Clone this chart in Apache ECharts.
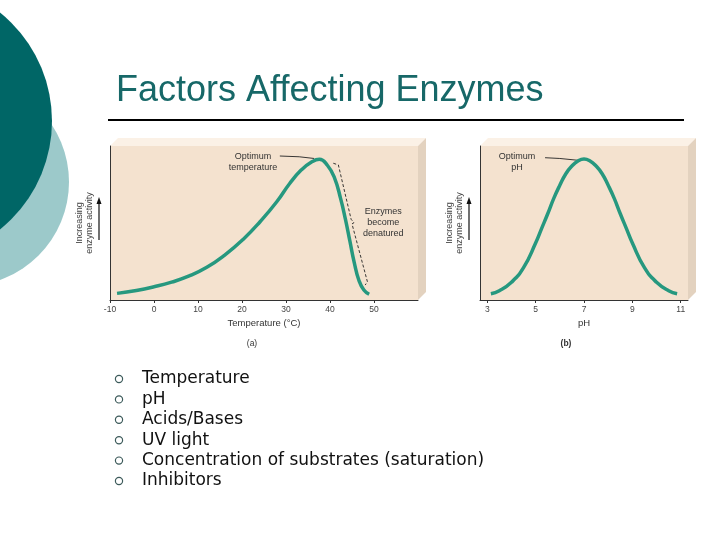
<!DOCTYPE html>
<html lang="en">
<head>
<meta charset="UTF-8">
<title>Factors Affecting Enzymes</title>
<style>
  html, body { margin: 0; padding: 0; background: #fff; }
  #main { width: 720px; height: 540px; }
</style>
</head>
<body>
<div id="main"></div>
<script src="https://cdn.jsdelivr.net/npm/echarts@6/dist/echarts.min.js"></script>
<script>
// (a) temperature, [°C, activity]
var tempCurve = [
  [-8.4, 4.3], [-4, 6.2], [0, 8.6], [4, 11.6], [8, 15.6], [12, 21.2],
  [16, 29], [20.3, 39.5], [24.1, 50.8], [27.9, 63.8], [30.8, 75.5],
  [33.5, 84.5], [35.8, 89.6], [37.6, 91.4], [39.4, 87.5], [41, 79.5],
  [42.4, 66], [43.5, 52.5], [44.5, 38.5], [45.5, 24.5], [46.6, 12.5],
  [47.7, 6.5], [48.9, 3.7]
];
var tempTicks = [-10, 0, 10, 20, 30, 40, 50];

// (b) pH, [pH, activity]
var phCurve = [
  [3.15, 4], [3.5, 6], [4, 11.5], [4.5, 21], [5, 37], [5.25, 46.5], [5.5, 56],
  [5.75, 66], [6, 74.5], [6.25, 82], [6.5, 87], [6.75, 90.3], [7, 91.6],
  [7.25, 90.3], [7.5, 87], [7.75, 82], [8, 74.5], [8.25, 66], [8.5, 56],
  [8.75, 46.5], [9, 37], [9.5, 21], [10, 11.5], [10.5, 6], [10.85, 4]
];
var phTicks = [3, 5, 7, 9, 11];

var bullets = [
  'Temperature', 'pH', 'Acids/Bases', 'UV light',
  'Concentration of substrates (saturation)', 'Inhibitors'
];

var chart = echarts.init(document.getElementById('main'));

var grids = [
  { left: 110, top: 146, width: 308, height: 154 },
  { left: 480, top: 146, width: 208, height: 154 }
];
var curveColor = '#26987f';
var font = 'Liberation Sans, Arial, sans-serif';

function xAxis(i, min, max, ticks, name) {
  return {
    type: 'value', gridIndex: i, min: min, max: max,
    name: name, nameLocation: 'middle', nameGap: 18,
    nameTextStyle: { fontFamily: font, fontSize: 9.5, color: '#333' },
    axisLine: { onZero: false, lineStyle: { color: '#333', width: 1 } },
    axisTick: { show: true, length: 3, customValues: ticks, lineStyle: { color: '#333' } },
    axisLabel: { customValues: ticks, fontFamily: font, fontSize: 8.5, color: '#444', margin: 5 },
    splitLine: { show: false }
  };
}
function yAxis(i) {
  return {
    type: 'value', gridIndex: i, min: 0, max: 100,
    name: 'Increasing\nenzyme activity', nameLocation: 'middle', nameGap: 15,
    nameTextStyle: { fontFamily: font, fontSize: 9, color: '#444', lineHeight: 10 },
    axisLine: { show: true, onZero: false, lineStyle: { color: '#333', width: 1 } },
    axisTick: { show: false }, axisLabel: { show: false }, splitLine: { show: false }
  };
}

// background decoration: circles, title, rule, 3d panels, bullet list
var deco = [
  { type: 'circle', z: -10, shape: { cx: -35, cy: 182, r: 104 }, style: { fill: '#9cc9ca' } },
  { type: 'circle', z: -9, shape: { cx: -87, cy: 121, r: 139 }, style: { fill: '#006666' } },
  { type: 'text', x: 116, y: 91, style: { text: 'Factors Affecting Enzymes', font: '36px Liberation Sans', fill: '#176868', verticalAlign: 'middle' } },
  { type: 'line', shape: { x1: 108, y1: 120, x2: 684, y2: 120 }, style: { stroke: '#000', lineWidth: 2 } }
];
grids.forEach(function (g) {
  var l = g.left, t = g.top, r = g.left + g.width, b = g.top + g.height, d = 8;
  deco.push({ type: 'rect', z: -5, shape: { x: l, y: t, width: g.width, height: g.height }, style: { fill: '#f4e2cf' } });
  deco.push({ type: 'polygon', z: -5, shape: { points: [[l, t], [r, t], [r + d, t - d], [l + d, t - d]] }, style: { fill: '#fbf1e6' } });
  deco.push({ type: 'polygon', z: -5, shape: { points: [[r, t], [r + d, t - d], [r + d, b - d], [r, b]] }, style: { fill: '#e3d2bf' } });
  // arrow beside y axis name
  deco.push({ type: 'line', shape: { x1: l - 11, y1: 240, x2: l - 11, y2: 202 }, style: { stroke: '#111', lineWidth: 1.2 } });
  deco.push({ type: 'polygon', shape: { points: [[l - 13.5, 204], [l - 8.5, 204], [l - 11, 197]] }, style: { fill: '#111' } });
});
deco.push({ type: 'text', x: 252, y: 344, style: { text: '(a)', font: '8.5px Liberation Sans', fill: '#333', align: 'center', verticalAlign: 'middle' } });
deco.push({ type: 'text', x: 566, y: 344, style: { text: '(b)', font: 'bold 8.5px Liberation Sans', fill: '#333', align: 'center', verticalAlign: 'middle' } });
bullets.forEach(function (s, i) {
  var y = 379 + i * 20.4;
  deco.push({ type: 'circle', shape: { cx: 119, cy: y, r: 3.6 }, style: { fill: 'none', stroke: '#3c5a5a', lineWidth: 1.2 } });
  deco.push({ type: 'text', x: 142, y: y, style: { text: s, font: '17px DejaVu Sans', fill: '#111', verticalAlign: 'middle' } });
});

var option = {
  animation: false,
  grid: grids,
  xAxis: [xAxis(0, -10, 60, tempTicks, 'Temperature (°C)'), xAxis(1, 2.7, 11.3, phTicks, 'pH')],
  yAxis: [yAxis(0), yAxis(1)],
  series: [
    { type: 'line', xAxisIndex: 0, yAxisIndex: 0, data: tempCurve, smooth: 0.5, showSymbol: false, silent: true,
      lineStyle: { color: curveColor, width: 3.5 } },
    { type: 'line', xAxisIndex: 1, yAxisIndex: 1, data: phCurve, smooth: 0.5, showSymbol: false, silent: true,
      lineStyle: { color: curveColor, width: 3.5 } }
  ],
  graphic: { elements: deco }
};
chart.setOption(option);

// annotations placed in data space
function P(g, x, y) { return chart.convertToPixel({ gridIndex: g }, [x, y]); }
function label(g, x, y, text) {
  var p = P(g, x, y);
  return { type: 'text', x: p[0], y: p[1], style: { text: text, font: '9px Liberation Sans', fill: '#333', align: 'center', verticalAlign: 'middle', lineHeight: 11 } };
}
function path(g, pts, dash) {
  return { type: 'polyline', shape: { points: pts.map(function (q) { return P(g, q[0], q[1]); }) },
    style: { fill: 'none', stroke: '#222', lineWidth: 0.9, lineDash: dash || null } };
}
var notes = [
  label(0, 22.5, 89.6, 'Optimum\ntemperature'),
  path(0, [[28.6, 93.5], [33, 93], [36.4, 91.9]]),
  path(0, [[40.75, 88.8], [41.9, 87.7], [44.8, 52.4], [45.45, 50.2], [45, 49.4], [48.5, 11.9], [48, 9.7]], [3, 2]),
  label(0, 52.1, 50.6, 'Enzymes\nbecome\ndenatured'),
  label(1, 4.23, 89.6, 'Optimum\npH'),
  path(1, [[5.39, 92.4], [6.0, 91.9], [6.83, 90.6]])
];
chart.setOption({ graphic: { elements: deco.concat(notes) } });
</script>
</body>
</html>
